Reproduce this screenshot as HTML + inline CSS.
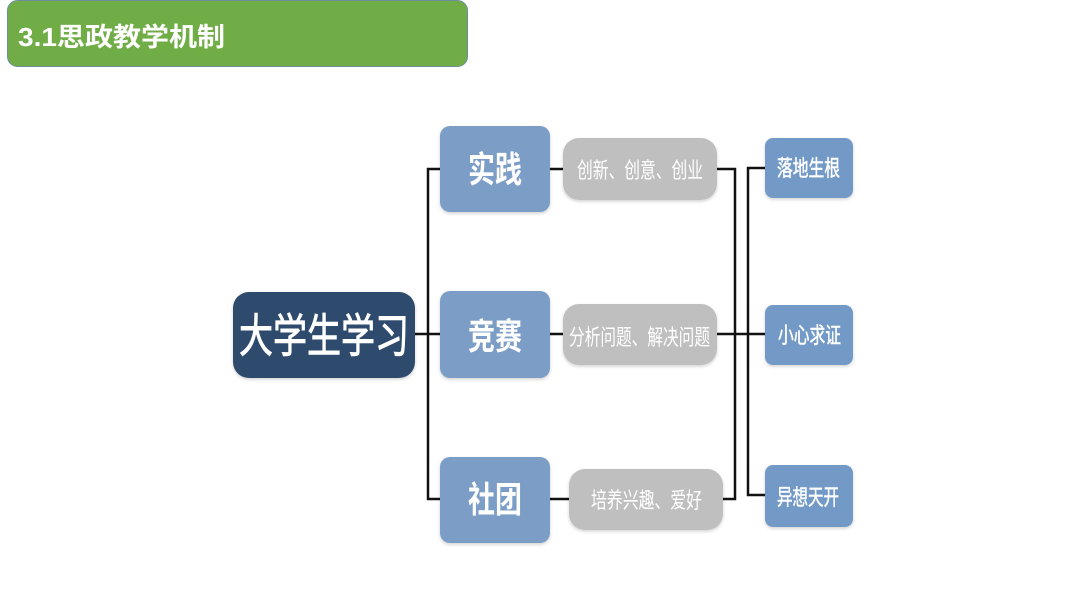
<!DOCTYPE html>
<html>
<head>
<meta charset="utf-8">
<style>
html,body{margin:0;padding:0;background:#fff;}
body{width:1080px;height:608px;overflow:hidden;position:relative;}
svg{position:absolute;left:0;top:0;}
text{font-family:"Liberation Sans","Noto Sans CJK SC",sans-serif;fill:#fff;}
</style>
</head>
<body>
<svg width="1080" height="608" viewBox="0 0 1080 608" xmlns="http://www.w3.org/2000/svg">
  <defs>
    <filter id="sh" x="-10%" y="-10%" width="120%" height="130%">
      <feDropShadow dx="0" dy="1.5" stdDeviation="1.5" flood-color="#000" flood-opacity="0.18"/>
    </filter>
  </defs>

  <!-- Header -->
  <rect x="7.5" y="0.5" width="460" height="66" rx="10" ry="10" fill="#70AD47" stroke="#6b8f9e" stroke-width="1"/>
  <text x="18" y="46" font-size="26" font-weight="bold" textLength="207" lengthAdjust="spacingAndGlyphs">3.1思政教学机制</text>

  <!-- Connectors -->
  <g stroke="#111" stroke-width="2.5" fill="none" stroke-linecap="square">
    <line x1="415" y1="334" x2="440" y2="334"/>
    <polyline points="440,169 428,169 428,499 440,499"/>
    <line x1="550" y1="169" x2="563" y2="169"/>
    <line x1="550" y1="334" x2="563" y2="334"/>
    <line x1="550" y1="499" x2="569" y2="499"/>
    <polyline points="717,169 735,169 735,499 723,499"/>
    <line x1="717" y1="334" x2="765" y2="334"/>
    <polyline points="765,168 748,168 748,495 765,495"/>
  </g>

  <!-- Central node -->
  <rect x="233" y="292" width="182" height="86" rx="16" ry="16" fill="#2F4B6E" filter="url(#sh)"/>
  <text x="239" y="352" font-size="46" textLength="170" lengthAdjust="spacingAndGlyphs" stroke="#fff" stroke-width="0.9">大学生学习</text>

  <!-- Level 1 -->
  <g fill="#7C9DC6" filter="url(#sh)">
    <rect x="440" y="126" width="110" height="86" rx="10" ry="10"/>
    <rect x="440" y="291" width="110" height="87" rx="10" ry="10"/>
    <rect x="440" y="457" width="110" height="86" rx="10" ry="10"/>
  </g>
  <g font-size="36" font-weight="bold">
    <text x="468" y="182" textLength="54" lengthAdjust="spacingAndGlyphs">实践</text>
    <text x="468" y="349" textLength="54" lengthAdjust="spacingAndGlyphs">竞赛</text>
    <text x="468" y="512" textLength="54" lengthAdjust="spacingAndGlyphs">社团</text>
  </g>

  <!-- Gray nodes -->
  <g fill="#BFBFBF" filter="url(#sh)">
    <rect x="563" y="138" width="154" height="62" rx="16" ry="16"/>
    <rect x="563" y="304" width="154" height="61" rx="16" ry="16"/>
    <rect x="569" y="469" width="154" height="61" rx="16" ry="16"/>
  </g>
  <g font-size="22" style="fill:#f7f7f7">
    <text x="577" y="178" textLength="126" lengthAdjust="spacingAndGlyphs">创新、创意、创业</text>
    <text x="569" y="345" textLength="141" lengthAdjust="spacingAndGlyphs">分析问题、解决问题</text>
    <text x="591" y="508" textLength="111" lengthAdjust="spacingAndGlyphs">培养兴趣、爱好</text>
  </g>

  <!-- Right nodes -->
  <g fill="#7399C6" filter="url(#sh)">
    <rect x="765" y="138" width="88" height="60" rx="8" ry="8"/>
    <rect x="765" y="305" width="88" height="60" rx="8" ry="8"/>
    <rect x="765" y="465" width="88" height="62" rx="8" ry="8"/>
  </g>
  <g font-size="22" stroke="#fff" stroke-width="0.5">
    <text x="777" y="176" textLength="63" lengthAdjust="spacingAndGlyphs">落地生根</text>
    <text x="778" y="343" textLength="63" lengthAdjust="spacingAndGlyphs">小心求证</text>
    <text x="777" y="505" textLength="62" lengthAdjust="spacingAndGlyphs">异想天开</text>
  </g>
</svg>
</body>
</html>
